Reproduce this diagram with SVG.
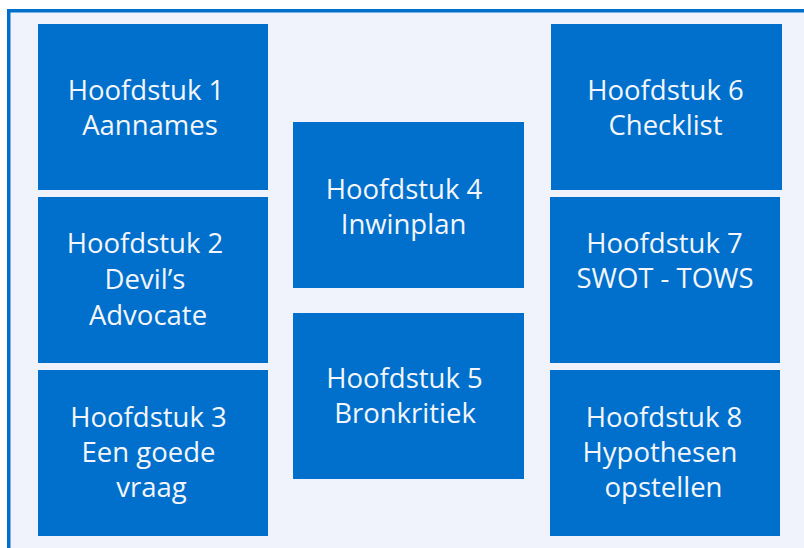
<svg xmlns="http://www.w3.org/2000/svg" width="804" height="548" viewBox="0 0 804 548">
<style>
.bg{fill:#eef2fb}
.frame{fill:#f0f3fb;stroke:#0070cc;stroke-width:3.5}
.box{fill:#0070cc}
.lbl{font-family:"Open Sans","Noto Sans",sans-serif;font-size:27.5px;fill:#f4f6fb;text-anchor:middle}
</style>
<rect class="bg" x="0" y="0" width="804" height="548" fill="#ffffff" style="fill:#ffffff"/>
<rect class="frame" x="8.75" y="10.75" width="820" height="560"/>
<g id="node1"><rect class="box" x="38" y="24" width="230" height="166"/>
<text class="lbl"><tspan x="146" y="100">Hoofdstuk 1</tspan><tspan x="150" y="135">Aannames</tspan></text></g>
<g id="node2"><rect class="box" x="38" y="197" width="230" height="166"/>
<text class="lbl"><tspan x="145" y="253">Hoofdstuk 2</tspan><tspan x="145" y="289">Devil’s</tspan><tspan x="148" y="325">Advocate</tspan></text></g>
<g id="node3"><rect class="box" x="38" y="370" width="230" height="166"/>
<text class="lbl"><tspan x="148.5" y="427">Hoofdstuk 3</tspan><tspan x="148.5" y="462">Een goede</tspan><tspan x="151.5" y="497">vraag</tspan></text></g>
<g id="node4"><rect class="box" x="293" y="122" width="231" height="166"/>
<text class="lbl"><tspan x="404" y="199">Hoofdstuk 4</tspan><tspan x="403.5" y="234">Inwinplan</tspan></text></g>
<g id="node5"><rect class="box" x="293" y="313" width="231" height="166"/>
<text class="lbl"><tspan x="404.5" y="388">Hoofdstuk 5</tspan><tspan x="405" y="423">Bronkritiek</tspan></text></g>
<g id="node6"><rect class="box" x="551" y="24" width="231" height="166"/>
<text class="lbl"><tspan x="665.5" y="100">Hoofdstuk 6</tspan><tspan x="665.5" y="135">Checklist</tspan></text></g>
<g id="node7"><rect class="box" x="550" y="197" width="230" height="166"/>
<text class="lbl"><tspan x="664.5" y="253">Hoofdstuk 7</tspan><tspan x="665" y="288">SWOT - TOWS</tspan></text></g>
<g id="node8"><rect class="box" x="550" y="370" width="230" height="166"/>
<text class="lbl"><tspan x="664" y="427">Hoofdstuk 8</tspan><tspan x="660" y="462">Hypothesen</tspan><tspan x="663.5" y="497">opstellen</tspan></text></g>
<g id="connectors"></g>
</svg>
